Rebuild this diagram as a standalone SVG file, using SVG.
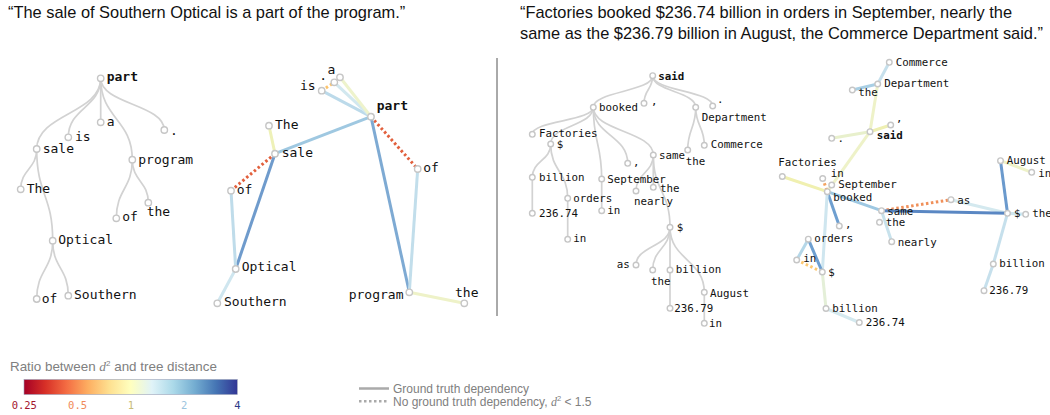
<svg xmlns="http://www.w3.org/2000/svg" width="1050" height="415" viewBox="0 0 1050 415">
<defs>
<linearGradient id="rdylbu" x1="0" y1="0" x2="1" y2="0">
<stop offset="0" stop-color="#a50026"/>
<stop offset="0.1" stop-color="#d73027"/>
<stop offset="0.2" stop-color="#f46d43"/>
<stop offset="0.3" stop-color="#fdae61"/>
<stop offset="0.4" stop-color="#fee090"/>
<stop offset="0.5" stop-color="#ffffbf"/>
<stop offset="0.6" stop-color="#e0f3f8"/>
<stop offset="0.7" stop-color="#abd9e9"/>
<stop offset="0.8" stop-color="#74add1"/>
<stop offset="0.9" stop-color="#4575b4"/>
<stop offset="1" stop-color="#313695"/>
</linearGradient>
</defs>
<style>
.title{font-family:"Liberation Sans",Arial,sans-serif;font-size:16.4px;fill:#111}
.lg{font-family:"Liberation Sans",Arial,sans-serif;font-size:13.4px;fill:#808080}
.lg2{font-family:"Liberation Sans",Arial,sans-serif;font-size:12px;fill:#808080}
.m13{font-family:"DejaVu Sans Mono",monospace;font-size:13px;fill:#111}
.m11{font-family:"DejaVu Sans Mono",monospace;font-size:10.8px;fill:#111}
.tick{font-family:"DejaVu Sans Mono",monospace;font-size:10.5px;text-anchor:middle}
.b{font-weight:bold}
.tree path{fill:none;stroke:#d2d2d2;stroke-width:1.7}
circle{fill:#fff;stroke:#c6c6c6;stroke-width:1.4}
.e line{stroke-width:3;stroke-linecap:butt}
.e line.dot{stroke-dasharray:2.5 2.5}
</style>

<text class="title" x="8" y="17.5">“The sale of Southern Optical is a part of the program.”</text>
<text class="title" x="520" y="17.5">“Factories booked $236.74 billion in orders in September, nearly the</text>
<text class="title" x="520" y="39">same as the $236.79 billion in August, the Commerce Department said.”</text>

<line x1="497" y1="58" x2="497" y2="316" stroke="#555" stroke-width="1"/>

<!-- ===== Panel 1: left tree ===== -->
<g id="connectors-tree1" class="tree">
<path d="M100.7,78.3 C100.7,113.7 36.7,113.7 36.7,149"/>
<path d="M100.7,78.3 C100.7,107.8 68.3,107.8 68.3,137.3"/>
<path d="M100.7,78.3 L100.7,122.3"/>
<path d="M100.7,78.3 C100.7,104.2 164.3,104.2 164.3,130"/>
<path d="M100.7,78.3 C100.7,119 132.3,119 132.3,159.7"/>
<path d="M36.7,149 C36.7,169.2 20.7,169.2 20.7,189.3"/>
<path d="M36.7,149 C36.7,194.9 52.7,194.9 52.7,240.7"/>
<path d="M132.3,159.7 C132.3,189 116.3,189 116.3,218.3"/>
<path d="M132.3,159.7 C132.3,181.2 148.3,181.2 148.3,202.7"/>
<path d="M52.7,240.7 C52.7,269.9 36.7,269.9 36.7,299"/>
<path d="M52.7,240.7 C52.7,268.2 68.3,268.2 68.3,295.7"/>
</g>
<g id="t1-part"><circle cx="100.7" cy="78.3" r="3.2"/><text class="m13 b" x="106.7" y="81">part</text></g>
<g id="t1-is"><circle cx="68.3" cy="137.3" r="3.2"/><text class="m13" x="75" y="140.5">is</text></g>
<g id="t1-a"><circle cx="100.7" cy="122.3" r="3.2"/><text class="m13" x="106.7" y="126">a</text></g>
<g id="t1-dot"><circle cx="164.3" cy="130" r="3.2"/><text class="m13" x="170" y="134.5">.</text></g>
<g id="t1-sale"><circle cx="36.7" cy="149" r="3.2"/><text class="m13" x="42.7" y="152.7">sale</text></g>
<g id="t1-program"><circle cx="132.3" cy="159.7" r="3.2"/><text class="m13" x="138.3" y="163.5">program</text></g>
<g id="t1-The"><circle cx="20.7" cy="189.3" r="3.2"/><text class="m13" x="26.7" y="192.7">The</text></g>
<g id="t1-of2"><circle cx="116.3" cy="218.3" r="3.2"/><text class="m13" x="122.3" y="221">of</text></g>
<g id="t1-the"><circle cx="148.3" cy="202.7" r="3.2"/><text class="m13" x="146.7" y="216">the</text></g>
<g id="t1-Optical"><circle cx="52.7" cy="240.7" r="3.2"/><text class="m13" x="58.3" y="243.5">Optical</text></g>
<g id="t1-of"><circle cx="36.7" cy="299" r="3.2"/><text class="m13" x="41.7" y="302.7">of</text></g>
<g id="t1-Southern"><circle cx="68.3" cy="295.7" r="3.2"/><text class="m13" x="74" y="298.7">Southern</text></g>

<!-- ===== Panel 2: left embedding ===== -->
<g id="connectors-emb1" class="e">
<line x1="321.7" y1="90.7" x2="371" y2="116.7" stroke="#bcdaea"/>
<line x1="334.3" y1="82.3" x2="371" y2="116.7" stroke="#d2e8ef"/>
<line x1="340" y1="77.3" x2="371" y2="116.7" stroke="#eef3cc"/>
<line class="dot" x1="321.7" y1="90.7" x2="334.3" y2="82.3" stroke="#fcc36b"/>
<line x1="371" y1="116.7" x2="275" y2="153.7" stroke="#9fc8e1"/>
<line class="dot" x1="371" y1="116.7" x2="417.7" y2="169" stroke="#e2603d"/>
<line x1="371" y1="116.7" x2="409.3" y2="292.3" stroke="#7eaad3"/>
<line x1="269" y1="125.7" x2="275" y2="153.7" stroke="#eef1b8"/>
<line class="dot" x1="275" y1="153.7" x2="231" y2="190.7" stroke="#e2603d"/>
<line x1="275" y1="153.7" x2="235.7" y2="269" stroke="#6f9bcc"/>
<line x1="231" y1="190.7" x2="235.7" y2="269" stroke="#bfdcea"/>
<line x1="235.7" y1="269" x2="217.3" y2="303.3" stroke="#cfe6ef"/>
<line x1="417.7" y1="169" x2="409.3" y2="292.3" stroke="#c2deeb"/>
<line x1="409.3" y1="292.3" x2="464.3" y2="303.3" stroke="#eef2c8"/>
</g>
<g id="e1-a"><circle cx="340" cy="77.3" r="3.2"/><text class="m13" x="327.5" y="73.5">a</text></g>
<g id="e1-dot"><circle cx="334.3" cy="82.3" r="3.2"/><text class="m13" x="319.3" y="80">.</text></g>
<g id="e1-is"><circle cx="321.7" cy="90.7" r="3.2"/><text class="m13" x="300" y="89.5">is</text></g>
<g id="e1-part"><circle cx="371" cy="116.7" r="3.2"/><text class="m13 b" x="376.7" y="109.5">part</text></g>
<g id="e1-The"><circle cx="269" cy="125.7" r="3.2"/><text class="m13" x="275" y="128.5">The</text></g>
<g id="e1-sale"><circle cx="275" cy="153.7" r="3.2"/><text class="m13" x="281.7" y="156.7">sale</text></g>
<g id="e1-ofL"><circle cx="231" cy="190.7" r="3.2"/><text class="m13" x="236.7" y="193.7">of</text></g>
<g id="e1-ofR"><circle cx="417.7" cy="169" r="3.2"/><text class="m13" x="423.3" y="171.7">of</text></g>
<g id="e1-Optical"><circle cx="235.7" cy="269" r="3.2"/><text class="m13" x="241.7" y="271">Optical</text></g>
<g id="e1-Southern"><circle cx="217.3" cy="303.3" r="3.2"/><text class="m13" x="224" y="306">Southern</text></g>
<g id="e1-program"><circle cx="409.3" cy="292.3" r="3.2"/><text class="m13" x="403.5" y="298.5" text-anchor="end">program</text></g>
<g id="e1-the"><circle cx="464.3" cy="303.3" r="3.2"/><text class="m13" x="455" y="296.7">the</text></g>

<!-- ===== Panel 3: right tree ===== -->
<g id="connectors-tree2" class="tree">
<path d="M652.7,75.7 C652.7,91.5 593.3,91.5 593.3,107.3"/>
<path d="M652.7,75.7 C652.7,89.5 644,89.5 644,103.3"/>
<path d="M652.7,75.7 C652.7,91.5 695.7,91.5 695.7,107.3"/>
<path d="M652.7,75.7 C652.7,90.9 712.7,90.9 712.7,106"/>
<path d="M593.3,107.3 C593.3,120.8 532.3,120.8 532.3,134.3"/>
<path d="M593.3,107.3 C593.3,125.7 550.7,125.7 550.7,144"/>
<path d="M593.3,107.3 C593.3,143.2 601.7,143.2 601.7,179"/>
<path d="M593.3,107.3 C593.3,135.3 627.7,135.3 627.7,163.3"/>
<path d="M593.3,107.3 C593.3,131.2 653.3,131.2 653.3,155"/>
<path d="M550.7,144 C550.7,160.7 532.3,160.7 532.3,177.3"/>
<path d="M550.7,144 C550.7,171.2 567.7,171.2 567.7,198.3"/>
<path d="M532.3,177.3 L532.3,213.3"/>
<path d="M567.7,198.3 L567.7,239.3"/>
<path d="M601.7,179 L601.7,210.7"/>
<path d="M695.7,107.3 C695.7,128.7 687.7,128.7 687.7,150"/>
<path d="M695.7,107.3 C695.7,126.3 704.3,126.3 704.3,145.3"/>
<path d="M653.3,155 C653.3,173 636,173 636,191"/>
<path d="M653.3,155 L653.3,187.3"/>
<path d="M653.3,155 C653.3,191.2 670,191.2 670,227.3"/>
<path d="M670,227.3 C670,246.2 636,246.2 636,265"/>
<path d="M670,227.3 C670,248.7 652.7,248.7 652.7,270"/>
<path d="M670,227.3 L670,270"/>
<path d="M670,227.3 C670,259.8 704.3,259.8 704.3,292.3"/>
<path d="M670,270 L670,308.3"/>
<path d="M704.3,292.3 L704.3,323.3"/>
</g>
<g id="t2-said"><circle cx="652.7" cy="75.7" r="2.8"/><text class="m11 b" x="658.3" y="79.7">said</text></g>
<g id="t2-booked"><circle cx="593.3" cy="107.3" r="2.8"/><text class="m11" x="599" y="110.7">booked</text></g>
<g id="t2-comma1"><circle cx="644" cy="103.3" r="2.8"/><text class="m11" x="651" y="105">,</text></g>
<g id="t2-Department"><circle cx="695.7" cy="107.3" r="2.8"/><text class="m11" x="701.7" y="121">Department</text></g>
<g id="t2-dot"><circle cx="712.7" cy="106" r="2.8"/><text class="m11" x="717" y="102.5">.</text></g>
<g id="t2-Factories"><circle cx="532.3" cy="134.3" r="2.8"/><text class="m11" x="539" y="137">Factories</text></g>
<g id="t2-dollar1"><circle cx="550.7" cy="144" r="2.8"/><text class="m11" x="556.7" y="148">$</text></g>
<g id="t2-Commerce"><circle cx="704.3" cy="145.3" r="2.8"/><text class="m11" x="710.7" y="148">Commerce</text></g>
<g id="t2-the1"><circle cx="687.7" cy="150" r="2.8"/><text class="m11" x="685.7" y="165">the</text></g>
<g id="t2-comma2"><circle cx="627.7" cy="163.3" r="2.8"/><text class="m11" x="633" y="166">,</text></g>
<g id="t2-same"><circle cx="653.3" cy="155" r="2.8"/><text class="m11" x="659" y="159">same</text></g>
<g id="t2-billion1"><circle cx="532.3" cy="177.3" r="2.8"/><text class="m11" x="539" y="180.5">billion</text></g>
<g id="t2-September"><circle cx="601.7" cy="179" r="2.8"/><text class="m11" x="607.3" y="183">September</text></g>
<g id="t2-the2"><circle cx="653.3" cy="187.3" r="2.8"/><text class="m11" x="660" y="192">the</text></g>
<g id="t2-nearly"><circle cx="636" cy="191" r="2.8"/><text class="m11" x="634" y="204.5">nearly</text></g>
<g id="t2-orders"><circle cx="567.7" cy="198.3" r="2.8"/><text class="m11" x="573.3" y="201.5">orders</text></g>
<g id="t2-in2"><circle cx="601.7" cy="210.7" r="2.8"/><text class="m11" x="607.3" y="214">in</text></g>
<g id="t2-23674"><circle cx="532.3" cy="213.3" r="2.8"/><text class="m11" x="539" y="217">236.74</text></g>
<g id="t2-in1"><circle cx="567.7" cy="239.3" r="2.8"/><text class="m11" x="573.3" y="242">in</text></g>
<g id="t2-dollar2"><circle cx="670" cy="227.3" r="2.8"/><text class="m11" x="676.7" y="231">$</text></g>
<g id="t2-as"><circle cx="636" cy="265" r="2.8"/><text class="m11" x="616.7" y="268">as</text></g>
<g id="t2-the3"><circle cx="652.7" cy="270" r="2.8"/><text class="m11" x="651" y="284.5">the</text></g>
<g id="t2-billion2"><circle cx="670" cy="270" r="2.8"/><text class="m11" x="675.7" y="273">billion</text></g>
<g id="t2-August"><circle cx="704.3" cy="292.3" r="2.8"/><text class="m11" x="710" y="296.5">August</text></g>
<g id="t2-23679"><circle cx="670" cy="308.3" r="2.8"/><text class="m11" x="674.3" y="312">236.79</text></g>
<g id="t2-in3"><circle cx="704.3" cy="323.3" r="2.8"/><text class="m11" x="709" y="327">in</text></g>

<!-- ===== Panel 4: right embedding ===== -->
<g id="connectors-emb2" class="e">
<line x1="889.3" y1="62.3" x2="877.7" y2="84" stroke="#c6e0ec"/>
<line x1="852.3" y1="90" x2="877.7" y2="84" stroke="#a9cfe4"/>
<line x1="877.7" y1="84" x2="870" y2="131.7" stroke="#eef2c8"/>
<line x1="870" y1="131.7" x2="890.7" y2="125" stroke="#eeefb2"/>
<line x1="870" y1="131.7" x2="831.7" y2="138.3" stroke="#e8f0cc"/>
<line x1="870" y1="131.7" x2="827.3" y2="191.7" stroke="#eef2c8"/>
<line x1="782.3" y1="176.5" x2="827.3" y2="191.7" stroke="#f0f0b0"/>
<line class="dot" x1="822.7" y1="178.5" x2="827.3" y2="191.7" stroke="#f4a460"/>
<line x1="827.3" y1="191.7" x2="839.3" y2="226" stroke="#6e9fd0"/>
<line x1="827.3" y1="191.7" x2="881.5" y2="210.7" stroke="#9ec8e2"/>
<line x1="827.3" y1="191.7" x2="822.3" y2="272" stroke="#cfe6ef"/>
<line x1="881.5" y1="210.7" x2="891.7" y2="241.7" stroke="#c8e2ec"/>
<line x1="951" y1="199.7" x2="1007.5" y2="213.3" stroke="#d4e9ef"/>
<line class="dot" x1="881.5" y1="210.7" x2="951" y2="199.7" stroke="#f0905a"/>
<line x1="881.5" y1="210.7" x2="1007.5" y2="213.3" stroke="#5a87c3"/>
<line x1="1000.5" y1="160.7" x2="1007.5" y2="213.3" stroke="#6b9acd"/>
<line x1="1000.5" y1="160.7" x2="1031.7" y2="172.3" stroke="#eef2c8"/>
<line x1="1007.5" y1="213.3" x2="1025.7" y2="214.3" stroke="#cfe6ef"/>
<line x1="1007.5" y1="213.3" x2="993.3" y2="264" stroke="#c6e0ec"/>
<line x1="993.3" y1="264" x2="984" y2="290.7" stroke="#c6e0ec"/>
<line x1="808.3" y1="239.2" x2="796.7" y2="260" stroke="#b5d7e8"/>
<line x1="808.3" y1="239.2" x2="822.3" y2="272" stroke="#6e9fd0"/>
<line class="dot" x1="796.7" y1="260" x2="822.3" y2="272" stroke="#fdc870"/>
<line x1="822.3" y1="272" x2="826" y2="308.5" stroke="#e4efd8"/>
<line x1="826" y1="308.5" x2="859.3" y2="322.5" stroke="#d4e9ef"/>
</g>
<g id="e2-Commerce"><circle cx="889.3" cy="62.3" r="2.8"/><text class="m11" x="895.7" y="65.5">Commerce</text></g>
<g id="e2-Department"><circle cx="877.7" cy="84" r="2.8"/><text class="m11" x="884.3" y="87">Department</text></g>
<g id="e2-the1"><circle cx="852.3" cy="90" r="2.8"/><text class="m11" x="858.3" y="95.5">the</text></g>
<g id="e2-comma1"><circle cx="890.7" cy="125" r="2.8"/><text class="m11" x="896" y="122">,</text></g>
<g id="e2-said"><circle cx="870" cy="131.7" r="2.8"/><text class="m11 b" x="876.7" y="139">said</text></g>
<g id="e2-dot"><circle cx="831.7" cy="138.3" r="2.8"/><text class="m11" x="837.5" y="141.5">.</text></g>
<g id="e2-Factories"><circle cx="782.3" cy="176.5" r="2.8"/><text class="m11" x="778.3" y="166">Factories</text></g>
<g id="e2-in1"><circle cx="822.7" cy="178.5" r="2.8"/><text class="m11" x="830.7" y="177">in</text></g>
<g id="e2-September"><circle cx="831.7" cy="185" r="2.8"/><text class="m11" x="838.3" y="188">September</text></g>
<g id="e2-booked"><circle cx="827.3" cy="191.7" r="2.8"/><text class="m11" x="833.3" y="200.5">booked</text></g>
<g id="e2-same"><circle cx="881.5" cy="210.7" r="2.8"/><text class="m11" x="887.3" y="214.5">same</text></g>
<g id="e2-the2"><circle cx="879.5" cy="222.3" r="2.8"/><text class="m11" x="885.7" y="225.5">the</text></g>
<g id="e2-comma2"><circle cx="839.3" cy="226" r="2.8"/><text class="m11" x="845" y="228">,</text></g>
<g id="e2-as"><circle cx="951" cy="199.7" r="2.8"/><text class="m11" x="957.3" y="204">as</text></g>
<g id="e2-August"><circle cx="1000.5" cy="160.7" r="2.8"/><text class="m11" x="1006.7" y="164">August</text></g>
<g id="e2-in2"><circle cx="1031.7" cy="172.3" r="2.8"/><text class="m11" x="1038.3" y="176.5">in</text></g>
<g id="e2-dollar1"><circle cx="1007.5" cy="213.3" r="2.8"/><text class="m11" x="1014" y="217">$</text></g>
<g id="e2-the3"><circle cx="1025.7" cy="214.3" r="2.8"/><text class="m11" x="1032.3" y="217">the</text></g>
<g id="e2-orders"><circle cx="808.3" cy="239.2" r="2.8"/><text class="m11" x="814.3" y="242">orders</text></g>
<g id="e2-nearly"><circle cx="891.7" cy="241.7" r="2.8"/><text class="m11" x="897.7" y="245.5">nearly</text></g>
<g id="e2-in3"><circle cx="796.7" cy="260" r="2.8"/><text class="m11" x="803.3" y="262">in</text></g>
<g id="e2-dollar2"><circle cx="822.3" cy="272" r="2.8"/><text class="m11" x="828.3" y="275.5">$</text></g>
<g id="e2-billion1"><circle cx="993.3" cy="264" r="2.8"/><text class="m11" x="999.3" y="267">billion</text></g>
<g id="e2-23679"><circle cx="984" cy="290.7" r="2.8"/><text class="m11" x="989.3" y="294">236.79</text></g>
<g id="e2-billion2"><circle cx="826" cy="308.5" r="2.8"/><text class="m11" x="832.3" y="312">billion</text></g>
<g id="e2-23674"><circle cx="859.3" cy="322.5" r="2.8"/><text class="m11" x="865.7" y="325.5">236.74</text></g>

<!-- ===== Legend ===== -->
<g id="legend-scale">
<text class="lg" x="10" y="370.5">Ratio between <tspan font-family="Liberation Serif,serif" font-style="italic">d</tspan><tspan font-size="8" dy="-5">2</tspan><tspan dy="5"> and tree distance</tspan></text>
<rect x="24" y="379.5" width="213.3" height="15" fill="url(#rdylbu)" stroke="#9aa0b8" stroke-width="0.6"/>
<text class="tick" x="24.3" y="408.5" fill="#a3162e">0.25</text>
<text class="tick" x="77.6" y="408.5" fill="#f08a5a">0.5</text>
<text class="tick" x="130.8" y="408.5" fill="#c8bc78">1</text>
<text class="tick" x="184.1" y="408.5" fill="#9cc4de">2</text>
<text class="tick" x="237.3" y="408.5" fill="#2c3a88">4</text>
</g>
<g id="legend-lines">
<line x1="359" y1="388.5" x2="389" y2="388.5" stroke="#aaa" stroke-width="2.5"/>
<text class="lg2" x="393" y="392.8">Ground truth dependency</text>
<line x1="359" y1="401.2" x2="389" y2="401.2" stroke="#aaa" stroke-width="2.5" stroke-dasharray="2.5 2.5"/>
<text class="lg2" x="393" y="405.5">No ground truth dependency, <tspan font-family="Liberation Serif,serif" font-style="italic">d</tspan><tspan font-size="7.5" dy="-4.5">2</tspan><tspan dy="4.5"> &lt; 1.5</tspan></text>
</g>
</svg>
